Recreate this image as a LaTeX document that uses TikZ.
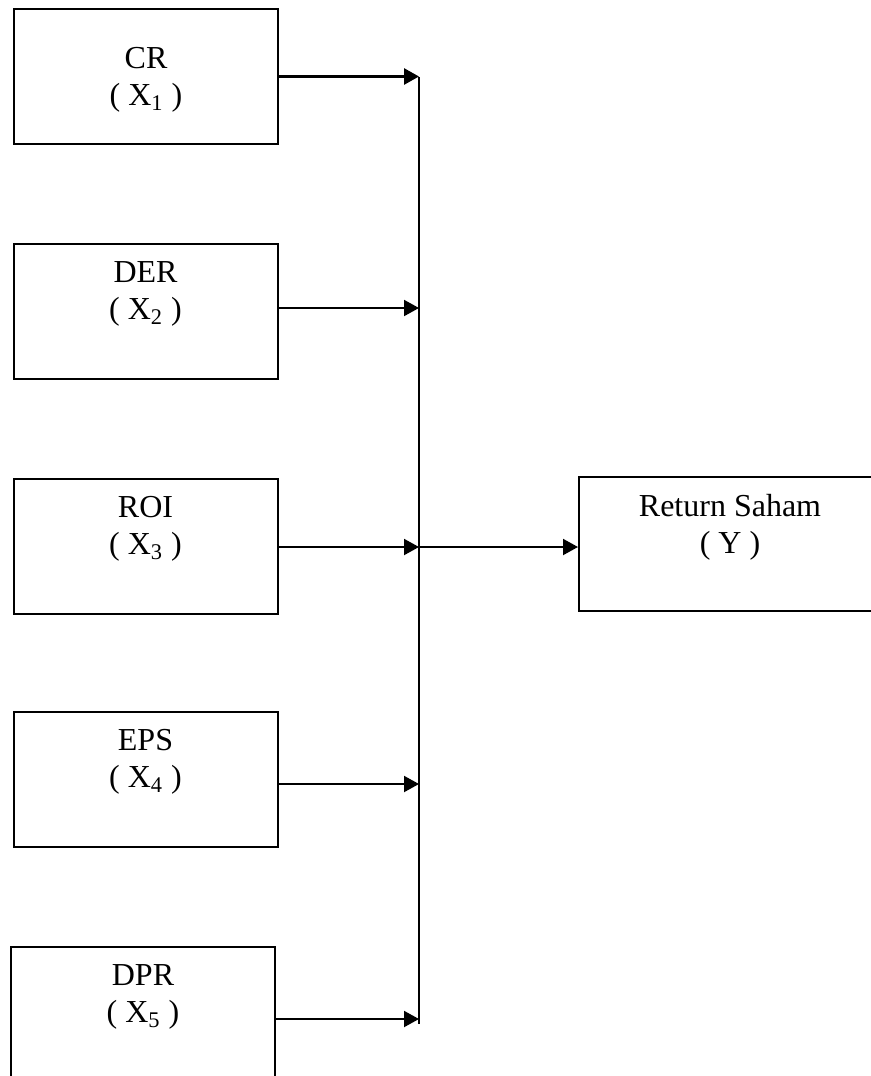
\documentclass[tikz,border=0pt]{standalone}
\usepackage{fontspec}
\setmainfont{Liberation Serif}
\usepackage{tikz}
\usetikzlibrary{arrows.meta,positioning}

\tikzset{
  varbox/.style={draw,line width=1pt,minimum width=132pt,minimum height=67.5pt,inner sep=0pt},
  vartext/.style={inner sep=0pt,align=center,font=\fontsize{16}{18.5}\selectfont},
  link/.style={line width=1pt,-{Triangle[length=7.5pt,width=8pt]}}
}

\begin{document}
\begin{tikzpicture}[x=0.5pt,y=-0.5pt]
        \useasboundingbox (0,0) rectangle (871,1076);
        % independent variables
        \node[varbox] (cr)  at (146,76.5)   {};
        \node[varbox] (der) at (145.5,311.5) {};
        \node[varbox] (roi) at (145.5,546)  {};
        \node[varbox] (eps) at (145.5,779)  {};
        \node[varbox] (dpr) at (143,1014.5) {};
        \node[varbox,minimum width=151pt,minimum height=67pt] (ret) at (730,544) {};
        \node[vartext,below=19.5pt of cr.north] (crlab)  {CR\\( X\textsubscript{1} )};
        \node[vartext,below=9pt of der.north] (derlab) {DER\\( X\textsubscript{2} )};
        \node[vartext,below=9pt of roi.north] (roilab) {ROI\\( X\textsubscript{3} )};
        \node[vartext,below=9pt of eps.north] (epslab) {EPS\\( X\textsubscript{4} )};
        \node[vartext,below=9pt of dpr.north] (dprlab) {DPR\\( X\textsubscript{5} )};
        \node[vartext,below=9pt of ret.north] (retlab) {Return Saham\\( Y )};
        % bus line
        \coordinate (bustop) at (419,77);
        \coordinate (busbot) at (419,1024);
        \draw[line width=1pt] (bustop)--(busbot);
        \draw[link,line width=1.4pt] (cr.east)--(cr.east -| bustop);
        \draw[link] ([yshift=1.75pt]der.east)--([yshift=1.75pt]der.east -| bustop);
        \draw[link] ([yshift=-0.5pt]roi.east)--([yshift=-0.5pt]roi.east -| bustop);
        \draw[link] ([yshift=-2.5pt]eps.east)--([yshift=-2.5pt]eps.east -| bustop);
        \draw[link] ([yshift=-2.25pt]dpr.east)--([yshift=-2.25pt]dpr.east -| bustop);
        \draw[link] ([yshift=-0.5pt]roi.east -| bustop)--([yshift=-0.5pt]roi.east -| ret.west);
      \end{tikzpicture}
\end{document}
